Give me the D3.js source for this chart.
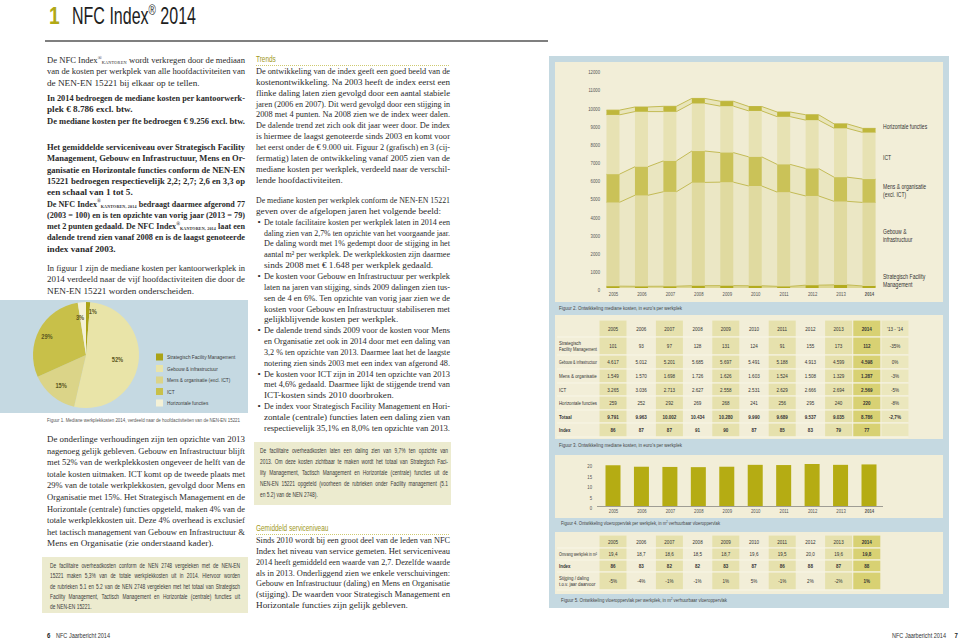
<!DOCTYPE html>
<html><head><meta charset="utf-8">
<script src="https://cdn.jsdelivr.net/npm/d3@7"></script>
<style>
body{margin:0;background:#fff;}
svg{display:block}
.serif{font-family:"Liberation Serif","Times New Roman",serif;}
.cond{font-family:"Liberation Sans","Arial",sans-serif;}
</style></head><body>
<svg id="page" width="960" height="642"></svg>
<script>
// ---------- DATA ----------
const years = ["2005","2006","2007","2008","2009","2010","2011","2012","2013","2014"];
const sfm = [101,93,97,128,131,124,91,155,173,112];
const gebouw = [4617,5012,5201,5685,5697,5491,5188,4913,4599,4598];
const mens = [1549,1570,1698,1726,1626,1603,1524,1508,1329,1287];
const ict = [3265,3036,2713,2627,2558,2531,2629,2666,2694,2569];
const horizontaal = [259,252,292,269,268,241,256,295,240,220];
const totaal = [9791,9963,10002,10434,10280,9990,9689,9537,9035,8786];
const indexKosten = [86,87,87,91,90,87,85,83,79,77];
const change1314 = ["-35%","0%","-3%","-5%","-8%","-2,7%",""];
const changeHeader = "'13 - '14";
const costTicks = [0,1000,2000,3000,4000,5000,6000,7000,8000,9000,10000,11000,12000];
const m2 = [19.4,18.7,18.6,18.5,18.7,19.6,19.5,20.0,19.6,19.8];
const indexM2 = [86,83,82,82,83,87,86,88,87,88];
const changeM2 = ["-5%","-4%","-1%","-1%","1%","5%","-1%","2%","-2%","1%"];
const m2Ticks = [0,5,10,15,20];
const activities = ["Strategisch Facility Management","Gebouw & infrastructuur","Mens & organisatie (excl. ICT)","ICT","Horizontale functies"];
const pieValues = [112,4598,1287,2569,220];
const piePct = ["1%","52%","15%","29%","3%"];

// ---------- TEXT ----------
const NJ = c => ({nj:true, c});
const leftP1 = [
  ["De NFC Index",{sup:"®"},{sub:"KANTOREN"}," wordt verkregen door de mediaan"],
  "van de kosten per werkplek van alle hoofdactiviteiten van",
  NJ("de NEN-EN 15221 bij elkaar op te tellen.")];
const leftP2 = [
  "In 2014 bedroegen de mediane kosten per kantoorwerk-",
  NJ("plek  € 8.786 excl. btw."),
  NJ("De mediane kosten per fte bedroegen € 9.256 excl. btw.")];
const leftP3 = [
  "Het gemiddelde serviceniveau over Strategisch Facility",
  "Management, Gebouw en Infrastructuur, Mens en Or-",
  "ganisatie en Horizontale functies conform de NEN-EN",
  "15221 bedroegen respectievelijk 2,2; 2,7; 2,6 en 3,3 op",
  NJ("een schaal van 1 tot 5."),
  ["De NFC Index",{sup:"®"},{sub:"KANTOREN, 2014"}," bedraagt daarmee afgerond 77"],
  "(2003 = 100) en is ten opzichte van vorig jaar (2013 = 79)",
  ["met 2 punten gedaald. De NFC Index",{sup:"®"},{sub:"KANTOREN, 2014"}," laat een"],
  "dalende trend zien vanaf 2008 en is de laagst genoteerde",
  NJ("index vanaf 2003.")];
const leftP4 = [
  "In figuur 1 zijn de mediane kosten per kantoorwerkplek in",
  "2014 verdeeld naar de vijf hoofdactiviteiten die door de",
  NJ("NEN-EN 15221 worden onderscheiden.")];
const leftP5 = [
  "De onderlinge verhoudingen zijn ten opzichte van 2013",
  "nagenoeg gelijk gebleven. Gebouw en Infrastructuur blijft",
  "met 52% van de werkplekkosten ongeveer de helft van de",
  "totale kosten uitmaken. ICT komt op de tweede plaats met",
  "29% van de totale werkplekkosten, gevolgd door Mens en",
  "Organisatie met 15%. Het Strategisch Management en de",
  "Horizontale (centrale) functies opgeteld, maken 4% van de",
  "totale werkplekkosten uit. Deze 4% overhead is exclusief",
  "het tactisch management van Gebouw en Infrastructuur &",
  NJ("Mens en Organisatie (zie onderstaand kader).")];
const leftBox = [
  "De facilitaire overheadkosten conform de NEN 2748 vergeleken met de NEN-EN",
  "15221 maken 5,3% van de totale werkplekkosten uit in 2014. Hiervoor worden",
  "de rubrieken 5.1 en 5.2 van de NEN 2748 vergeleken met het totaal van Strategisch",
  "Facility Management, Tactisch Management en Horizontale (centrale) functies uit",
  NJ("de NEN-EN 15221.")];
const midP1 = [
  "De ontwikkeling van de index geeft een goed beeld van de",
  "kostenontwikkeling. Na 2003 heeft de index eerst een",
  "flinke daling laten zien gevolgd door een aantal stabiele",
  "jaren (2006 en 2007). Dit werd gevolgd door een stijging in",
  "2008 met 4 punten. Na 2008 zien we de index weer dalen.",
  "De dalende trend zet zich ook dit jaar weer door. De index",
  "is hiermee de laagst genoteerde sinds 2003 en komt voor",
  "het eerst onder de € 9.000 uit. Figuur 2 (grafisch) en 3 (cij-",
  "fermatig) laten de ontwikkeling vanaf 2005 zien van de",
  "mediane kosten per werkplek, verdeeld naar de verschil-",
  NJ("lende hoofdactiviteiten.")];
const midP2 = [
  "De mediane kosten per werkplek conform de NEN-EN 15221",
  NJ("geven over de afgelopen jaren het volgende beeld:"),
  "• De totale facilitaire kosten per werkplek laten in 2014 een",
  "  daling zien van 2,7% ten opzichte van het voorgaande jaar.",
  "  De daling wordt met 1% gedempt door de stijging in het",
  "  aantal m² per werkplek. De werkplekkosten zijn daarmee",
  NJ("  sinds 2008 met € 1.648 per werkplek gedaald."),
  "• De kosten voor Gebouw en Infrastructuur per werkplek",
  "  laten na jaren van stijging, sinds 2009 dalingen zien tus-",
  "  sen de 4 en 6%. Ten opzichte van vorig jaar zien we de",
  "  kosten voor Gebouw en Infrastructuur stabiliseren met",
  NJ("  gelijkblijvende kosten per werkplek."),
  "• De dalende trend sinds 2009 voor de kosten voor Mens",
  "  en Organisatie zet ook in 2014 door met een daling van",
  "  3,2 % ten opzichte van 2013. Daarmee laat het de laagste",
  NJ("  notering zien sinds 2003 met een index van afgerond 48."),
  "• De kosten voor ICT zijn in 2014 ten opzichte van 2013",
  "  met 4,6% gedaald. Daarmee lijkt de stijgende trend van",
  NJ("  ICT-kosten sinds 2010 doorbroken."),
  "• De index voor Strategisch Facility Management en Hori-",
  "  zontale (centrale) functies laten een daling zien van",
  NJ("  respectievelijk 35,1% en 8,0% ten opzichte van 2013.")];
const midBox = [
  "De facilitaire overheadkosten laten een daling zien van 9,7% ten opzichte van",
  "2013. Om deze kosten zichtbaar te maken wordt het totaal van Strategisch Faci-",
  "lity Management, Tactisch Management en Horizontale (centrale) functies uit de",
  "NEN-EN 15221 opgeteld (voorheen de rubrieken onder Facility management (5.1",
  NJ("en 5.2) van de NEN 2748).")];
const midP3 = [
  "Sinds 2010 wordt bij een groot deel van de leden van NFC",
  "Index het niveau van service gemeten. Het serviceniveau",
  "2014 heeft gemiddeld een waarde van 2,7. Dezelfde waarde",
  "als in 2013. Onderliggend zien we enkele verschuivingen:",
  "Gebouw en Infrastructuur (daling) en Mens en Organisatie",
  "(stijging). De waarden voor Strategisch Management en",
  NJ("Horizontale functies zijn gelijk gebleven.")];

// ---------- HELPERS ----------
const svg = d3.select("#page");
const nl = d3.formatLocale({decimal:",", thousands:".", grouping:[3], currency:["€ ",""]});
const fInt = nl.format(",d"), f1 = nl.format(",.1f");
const CF = 0.76; // horizontal condensing for the narrow sans

function txt(g, x, y, content, st) {
  const cf = st.cls === "cond" ? (st.cf || CF) : 1;
  const t = g.append("text").attr("class", st.cls)
    .style("font-size", st.fs + "px").attr("fill", st.fill || "#2a2a2a");
  if (cf !== 1) t.attr("transform", `translate(${x},${y}) scale(${cf},1)`);
  else t.attr("x", x).attr("y", y);
  t.node().__cf = cf;
  if (st.bold) t.style("font-weight", "bold");
  if (st.anchor) t.attr("text-anchor", st.anchor);
  let off = 0;
  const parts = typeof content === "string" ? [content] : content;
  parts.forEach(p => {
    if (typeof p === "string") { t.append("tspan").attr("dy", -off).text(p); off = 0; }
    else if (p.sup) { const tg = -st.fs * 0.38; t.append("tspan").attr("dy", tg - off).style("font-size", st.fs * 0.62 + "px").text(p.sup); off = tg; }
    else if (p.sub) { const tg = st.fs * 0.12; t.append("tspan").attr("dy", tg - off).style("font-size", st.fs * 0.5 + "px").style("letter-spacing","0.2px").text(p.sub); off = tg; }
  });
  return t;
}
function fit(t, w, justify) {
  const cf = t.node().__cf || 1;
  const w2 = w / cf;
  const len = t.node().getComputedTextLength();
  const s = t.text(); const spaces = (s.match(/ /g) || []).length;
  if (len > w2) t.attr("textLength", w2).attr("lengthAdjust", "spacingAndGlyphs");
  else if (justify && spaces > 0) t.style("word-spacing", ((w2 - len) / spaces) + "px");
  return t;
}
function setW(t, w) {
  const cf = t.node().__cf || 1;
  t.attr("textLength", w / cf).attr("lengthAdjust", "spacingAndGlyphs");
  return t;
}
function para(g, lines, x, y, w, lh, st, indent) {
  lines.forEach((ln, i) => {
    let nj = false, c = ln;
    if (ln && ln.nj) { nj = true; c = ln.c; }
    let xx = x, ww = w;
    if (typeof c === "string" && (c.startsWith("• ") || c.startsWith("  "))) {
      if (c.startsWith("• ")) txt(g, x + 1.5, y + i * lh, "•", st);
      c = c.slice(2); xx = x + indent; ww = w - indent;
    }
    const t = txt(g, xx, y + i * lh, c, st);
    fit(t, ww, !nj);
  });
}
function condenseAxis(g, fs, boldFn) {
  g.select(".domain").remove();
  g.selectAll("text").attr("class","cond").attr("font-family",null).style("font-size", fs + "px")
    .attr("fill","#555").attr("transform", `scale(${CF},1)`)
    .style("font-weight", d => boldFn && boldFn(d) ? "bold" : null);
}

// ---------- HEADER ----------
const serif = {cls:"serif", fs:9.2, fill:"#2a2a2a"};
const serifB = {cls:"serif", fs:9.2, fill:"#2a2a2a", bold:true};
const small = {cls:"cond", fs:6.2, fill:"#3a3a3a"};
const olive = "#b1a916";

txt(svg, 49, 24, "1", {cls:"cond", fs:24, fill:olive, bold:true, cf:0.8});
setW(txt(svg, 72, 24, ["NFC Index",{sup:"®"}," 2014"], {cls:"cond", fs:23, fill:"#1e1e1e"}), 124);
svg.append("line").attr("x1",45).attr("x2",548).attr("y1",41).attr("y2",41).attr("stroke","#555").attr("stroke-width",1.6);

// ---------- LEFT COLUMN ----------
const L = svg.append("g");
const LX = 47, LW = 198, LH = 11.3;
para(L, leftP1, LX, 63, LW, LH, serif, 0);
para(L, leftP2, LX, 101, LW, LH, serifB, 0);
para(L, leftP3, LX, 150, LW, LH, serifB, 0);
para(L, leftP4, LX, 271, LW, LH, serif, 0);

// pie panel (figuur 1)
L.append("rect").attr("x",0).attr("y",300).attr("width",248).attr("height",113).attr("fill","#c5d9e2");
const pieCol = ["#aaa317","#e9e4a8","#dbd488","#c8c049","#f4f1d6"];
const arcs = d3.pie().sort(null)(pieValues);
const R = 53, pc = [86,355];
const arcG = d3.arc().innerRadius(0).outerRadius(R);
const pg = L.append("g").attr("transform",`translate(${pc[0]},${pc[1]})`);
pg.selectAll("path").data(arcs).join("path").attr("d",arcG).attr("fill",(d,i)=>pieCol[i]);
const lblR = [0.83,0.6,0.74,0.73,0.71], lblDx = [5,0,0,-5,-3];
arcs.forEach((a,i)=>{
  const c = d3.arc().innerRadius(R*lblR[i]).outerRadius(R*lblR[i]).centroid(a);
  txt(pg, c[0]+lblDx[i], c[1]+2.5, piePct[i], {cls:"cond", fs:7.5, fill:"#5b5720", bold:true, anchor:"middle"});
});
activities.forEach((a,i)=>{
  const yy = 357 + i*11.5;
  L.append("rect").attr("x",156).attr("y",yy-3.5).attr("width",7).attr("height",7).attr("fill",pieCol[i]);
  fit(txt(L, 167, yy+2, a, small), 70, false);
});
setW(txt(L, 47, 422, "Figuur 1. Mediane werkplekkosten 2014, verdeeld naar de hoofdactiviteiten van de NEN-EN 15221", {cls:"cond", fs:5.8, fill:"#555"}), 193);

para(L, leftP5, LX, 442, LW, 11.6, serif, 0);
L.append("rect").attr("x",42).attr("y",557).attr("width",206).attr("height",56).attr("fill","#ecebcf");
para(L, leftBox, 50, 568, 190, 10.3, {cls:"cond", fs:6.4, fill:"#3a3a3a"}, 0);

txt(svg, 47, 638, "6", {cls:"cond", fs:8, fill:"#222", bold:true});
setW(txt(svg, 56, 638, "NFC Jaarbericht 2014", {cls:"cond", fs:7, fill:"#333"}), 54);

// ---------- MIDDLE COLUMN ----------
const M = svg.append("g");
const MX = 256, MW = 194, MH = 10.85;
txt(M, MX, 62, "Trends", {cls:"cond", fs:8.5, fill:"#a0981a"});
M.append("line").attr("x1",MX).attr("x2",MX+MW).attr("y1",65.5).attr("y2",65.5).attr("stroke","#c2bb4a").attr("stroke-width",0.8).attr("stroke-dasharray","1,1");
para(M, midP1, MX, 74, MW, MH, serif, 0);
para(M, midP2, MX, 203, MW, MH, serif, 8);
M.append("rect").attr("x",254).attr("y",442).attr("width",197).attr("height",63).attr("fill","#ecebcf");
para(M, midBox, 260, 453, 188, 11.1, {cls:"cond", fs:6.4, fill:"#3a3a3a"}, 0);
txt(M, MX, 531, "Gemiddeld serviceniveau", {cls:"cond", fs:8.5, fill:"#a0981a"});
M.append("line").attr("x1",MX).attr("x2",MX+MW).attr("y1",534.5).attr("y2",534.5).attr("stroke","#c2bb4a").attr("stroke-width",0.8).attr("stroke-dasharray","1,1");
para(M, midP3, MX, 543, MW, MH, serif, 0);

// ---------- RIGHT PANEL ----------
const Rg = svg.append("g");
Rg.append("rect").attr("x",549).attr("y",56).attr("width",400).attr("height",552).attr("fill","#c5d9e1");
const cream = "#f2eed8";
Rg.append("rect").attr("x",555).attr("y",62).attr("width",388).attr("height",240).attr("fill",cream);
Rg.append("rect").attr("x",555).attr("y",315).attr("width",388).attr("height",124).attr("fill",cream);
Rg.append("rect").attr("x",555).attr("y",455).attr("width",388).attr("height",63).attr("fill",cream);
Rg.append("rect").attr("x",555).attr("y",532).attr("width",388).attr("height",62).attr("fill",cream);
const capSt = {cls:"cond", fs:5.8, fill:"#444"};
setW(txt(Rg, 559, 310, "Figuur 2. Ontwikkeling mediane kosten, in euro's per werkplek", capSt), 123);
setW(txt(Rg, 559, 447, "Figuur 3. Ontwikkeling mediane kosten, in euro's per werkplek", capSt), 123);
setW(txt(Rg, 561, 525, ["Figuur 4. Ontwikkeling vloeroppervlak per werkplek, in m",{sup:"2"}," verhuurbaar vloeroppervlak"], capSt), 159);
setW(txt(Rg, 561, 602, ["Figuur 5. Ontwikkeling vloeroppervlak per werkplek, in m",{sup:"2"}," verhuurbaar vloeroppervlak"], capSt), 166);

// stacked chart (figuur 2)
const x2 = d3.scalePoint().domain(years).range([613,869]);
const y2 = d3.scaleLinear().domain([0,12000]).range([288,70]);
const bw = 13;
const rows = years.map((yr,i)=>({year:yr, sfm:sfm[i], gebouw:gebouw[i], mens:mens[i], ict:ict[i], hor:horizontaal[i]}));
const keys = ["sfm","gebouw","mens","ict","hor"];
const series = d3.stack().keys(keys)(rows);
const barCol = ["#b3ab1e","#e0daa0","#cac258","#e7e2b3","#bfb73b"];
const areaCol = ["#dcd690","#ebe7c5","#eae6c0","#f0ecd3","#e9e5bb"];
const C = Rg.append("g");
series.forEach((s,k)=>{
  const pts = [];
  s.forEach(d=>{ const cx = x2(d.data.year); pts.push({x:cx-bw/2,y0:d[0],y1:d[1]},{x:cx+bw/2,y0:d[0],y1:d[1]}); });
  C.append("path").datum(pts).attr("d", d3.area().x(p=>p.x).y0(p=>y2(p.y0)).y1(p=>y2(p.y1))).attr("fill", areaCol[k]);
});
series.forEach((s,k)=>{
  const pts = [];
  s.forEach(d=>{ const cx = x2(d.data.year); pts.push({x:cx-bw/2,y:d[1]},{x:cx+bw/2,y:d[1]}); });
  C.append("path").datum(pts).attr("d", d3.line().x(p=>p.x).y(p=>y2(p.y))).attr("fill","none").attr("stroke","#c3bb55").attr("stroke-width",1);
});
series.forEach((s,k)=>{
  C.selectAll(null).data(s).join("rect")
    .attr("x", d=>x2(d.data.year)-bw/2).attr("width", bw)
    .attr("y", d=>y2(d[1])).attr("height", d=>Math.max(0.8, y2(d[0])-y2(d[1])))
    .attr("fill", barCol[k]);
});
C.append("g").attr("transform","translate(600,2)")
  .call(d3.axisLeft(y2).tickValues(costTicks).tickSize(0).tickPadding(0).tickFormat(d3.format("d")))
  .call(g=>condenseAxis(g, 5.6));
C.append("g").attr("transform","translate(0,292)")
  .call(d3.axisBottom(x2).tickSize(0).tickPadding(0))
  .call(g=>condenseAxis(g, 5.6, d=>d==="2014"));
const seriesLbl = [["Strategisch Facility","Management",277],["Gebouw &","infrastructuur",232],["Mens & organisatie","(excl. ICT)",187],["ICT",null,158],["Horizontale functies",null,127]];
const lblSt = {cls:"cond", fs:7.2, fill:"#333", cf:0.7};
seriesLbl.forEach(l=>{
  txt(C, 883, l[2]+2, l[0], lblSt);
  if (l[1]) txt(C, 883, l[2]+9.5, l[1], lblSt);
});

// table (figuur 3)
const colKeys = years.concat([changeHeader]);
const xT = d3.scalePoint().domain(colKeys).range([613,895]);
const cw = 27;
function colFill(i){ if (i===9) return "#d8d173"; if (i===10) return "#ebe7bd"; if (i%2===0) return "#e6e1ad"; return null; }
function drawTable(g, rowsDef, bounds, cols) {
  rowsDef.forEach((r,ri)=>{
    const y0 = bounds[ri], y1 = bounds[ri+1];
    cols.forEach((c,ci)=>{
      const f = colFill(ci);
      if (f) g.append("rect").attr("x", xT(c)-cw/2).attr("y", y0+0.6).attr("width", cw).attr("height", y1-y0-1.2).attr("fill", f);
    });
    g.append("line").attr("x1",557).attr("x2",xT(cols[cols.length-1])+cw/2).attr("y1",y1).attr("y2",y1).attr("stroke","#faf8ec").attr("stroke-width",0.8);
    const cy = (y0+y1)/2 + 2;
    const ls = {cls:"cond", fs:5.8, fill:"#333", bold:r.bold};
    if (r.label) {
      if (Array.isArray(r.label)) { fit(txt(g, 559, cy-3.3, r.label[0], ls), 38); fit(txt(g, 559, cy+3.3, r.label[1], ls), 38); }
      else fit(txt(g, 559, cy, r.label, ls), 38);
    }
    r.values.forEach((v,ci)=>{
      fit(txt(g, xT(cols[ci]), cy, v, {cls:"cond", fs:6, fill:"#333", anchor:"middle", bold: r.bold || ci===9}), 24);
    });
  });
}
const T1 = Rg.append("g");
drawTable(T1, [
  {label:null, values: colKeys},
  {label:["Strategisch","Facility Management"], values: sfm.map(fInt).concat([change1314[0]])},
  {label:"Gebouw & infrastructuur", values: gebouw.map(fInt).concat([change1314[1]])},
  {label:"Mens & organisatie", values: mens.map(fInt).concat([change1314[2]])},
  {label:"ICT", values: ict.map(fInt).concat([change1314[3]])},
  {label:"Horizontale functies", values: horizontaal.map(fInt).concat([change1314[4]])},
  {label:"Totaal", values: totaal.map(fInt).concat([change1314[5]]), bold:true},
  {label:"Index", values: indexKosten.map(String).concat([change1314[6]]), bold:true}
], [320,337,355,369,383,396,410,423,437], colKeys);

// bar chart (figuur 4)
const y3 = d3.scaleLinear().domain([0,20]).range([506,464]);
const B = Rg.append("g");
B.selectAll("rect").data(years).join("rect")
  .attr("x", d=>x2(d)-7.5).attr("width",15)
  .attr("y", (d,i)=>y3(m2[i])).attr("height",(d,i)=>y3(0)-y3(m2[i]))
  .attr("fill","#b5ac13");
B.append("line").attr("x1",597).attr("x2",883).attr("y1",506.5).attr("y2",506.5).attr("stroke","#666").attr("stroke-width",0.6);
B.append("g").attr("transform","translate(592,2)")
  .call(d3.axisLeft(y3).tickValues(m2Ticks).tickSize(0).tickPadding(0))
  .call(g=>condenseAxis(g, 5.6));
B.append("g").attr("transform","translate(0,509)")
  .call(d3.axisBottom(x2).tickSize(0).tickPadding(0))
  .call(g=>condenseAxis(g, 5.6, d=>d==="2014"));

// table (figuur 5)
const T2 = Rg.append("g");
drawTable(T2, [
  {label:null, values: years},
  {label:"Omvang werkplek in m²", values: m2.map(f1)},
  {label:"Index", values: indexM2.map(String), bold:true},
  {label:["Stijging / daling","t.o.v. jaar daarvoor"], values: changeM2}
], [535,548,560,572,590], years);

setW(txt(svg, 946, 638, "NFC Jaarbericht 2014", {cls:"cond", fs:7, fill:"#333", anchor:"end"}), 54);
txt(svg, 958, 638, "7", {cls:"cond", fs:8, fill:"#222", bold:true, anchor:"end"});
</script>
</body></html>
